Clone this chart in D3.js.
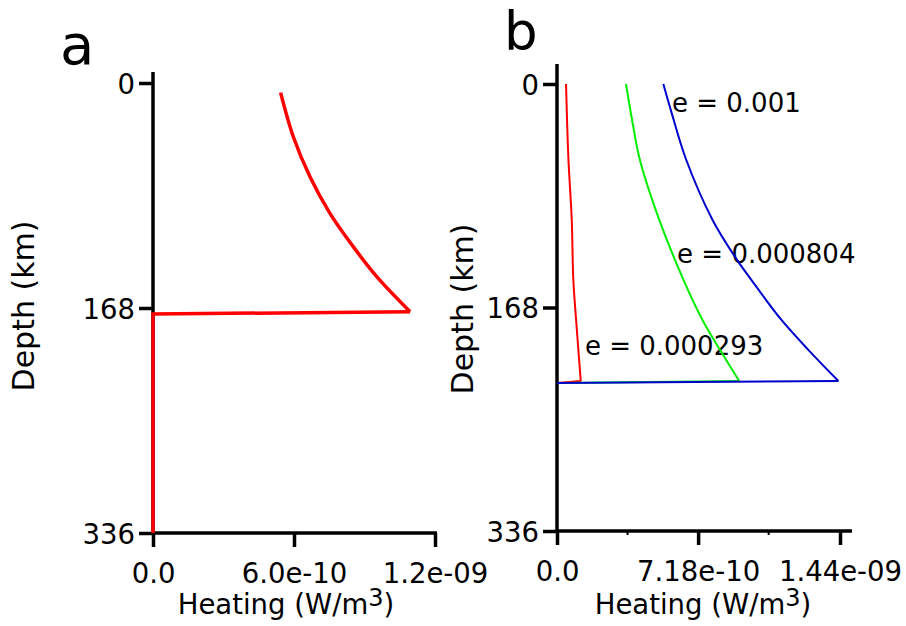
<!DOCTYPE html>
<html>
<head>
<meta charset="utf-8">
<script src="https://cdn.jsdelivr.net/npm/d3@7"></script>
<style>
body { margin: 0; background: #fff; }
text { font-family: "DejaVu Sans", sans-serif; fill: #000; }
</style>
</head>
<body>
<svg id="chart" width="906" height="626"></svg>
<script>
const UNIT = 1e-10; // heating values are stored in units of 1e-10 W/m3

// panel a - one profile
const depthA = [7.2, 40.1, 70, 97.3, 122.2, 144.6, 170.8];
const heatA  = [5.43, 5.97, 6.68, 7.53, 8.52, 9.52, 10.94];
const baseDepthA = [172.5, 336];   // heating is zero below the layer

// panel b - three eccentricities
const depthRed   = [0, 56, 102, 147, 177, 223.3];
const heatRed    = [0.46, 0.58, 0.75, 0.83, 0.97, 1.21];
const depthGreen = [0, 32, 56, 102, 147, 177, 200, 223.3];
const heatGreen  = [3.51, 3.88, 4.20, 5.2, 6.43, 7.39, 8.3, 9.27];
const depthBlue  = [0, 20, 56, 102, 132, 147, 177, 200, 223.3];
const heatBlue   = [5.41, 5.80, 6.55, 7.91, 9.15, 9.88, 11.4, 12.8, 14.32];
const baseDepthB = 224.8;

const eLabels = ["e = 0.000293", "e = 0.000804", "e = 0.001"];
const eLabelHeat  = [1.42, 6.11, 5.85];
const eLabelDepth = [203.8, 134.6, 21];

// ticks
const depthTicks = [0, 168, 336];
const heatTicksA = [0, 6e-10, 1.2e-9];
const heatLabelsA = ["0.0", "6.0e-10", "1.2e-09"];
const heatTicksB = [0, 7.18e-10, 1.44e-9];
const heatLabelsB = ["0.0", "7.18e-10", "1.44e-09"];
const minorTicksB = [3.59e-10, 1.077e-9];

const svg = d3.select("#chart");

const xA = d3.scaleLinear().domain([0, 1.2e-9]).range([153, 435]);
const yA = d3.scaleLinear().domain([0, 336]).range([83, 533]);
const xB = d3.scaleLinear().domain([0, 1.44e-9]).range([557, 840]);
const yB = d3.scaleLinear().domain([0, 336]).range([84, 531]);

function drawAxes(x, y, ticks, labels, topExtra, rightExtra) {
    const g = svg.append("g");
    // axis lines drawn by hand so they can run past the end ticks
    g.append("line")
        .attr("x1", x(0)).attr("x2", x(0))
        .attr("y1", y.range()[0] - topExtra).attr("y2", y.range()[1])
        .attr("stroke", "#000").attr("stroke-width", 3.5);
    g.append("line")
        .attr("x1", x(0)).attr("x2", x.range()[1] + rightExtra)
        .attr("y1", y.range()[1]).attr("y2", y.range()[1])
        .attr("stroke", "#000").attr("stroke-width", 3.5);

    const yAxis = g.append("g")
        .attr("transform", `translate(${x(0)},0)`)
        .call(d3.axisLeft(y).tickValues(depthTicks).tickSize(14).tickPadding(4).tickSizeOuter(0));
    const xAxis = g.append("g")
        .attr("transform", `translate(0,${y.range()[1]})`)
        .call(d3.axisBottom(x).tickValues(ticks).tickFormat((d, i) => labels[i])
            .tickSize(14).tickPadding(16).tickSizeOuter(0));

    [yAxis, xAxis].forEach(a => {
        a.select(".domain").remove();
        a.attr("font-size", 27.5).attr("font-family", "DejaVu Sans, sans-serif");
        a.selectAll("line").attr("stroke-width", 3.5);
    });
    yAxis.selectAll("text").attr("dy", "0.38em");
    return g;
}

function drawTitles(cx, yLabelX, yLabelY, letter, letterX, letterY, letterSize) {
    svg.append("text")
        .attr("transform", `translate(${yLabelX},${yLabelY}) rotate(-90)`)
        .attr("text-anchor", "middle")
        .attr("font-size", 30)
        .text("Depth (km)");
    const t = svg.append("text")
        .attr("x", cx).attr("y", 614)
        .attr("text-anchor", "middle")
        .attr("font-size", 27.5);
    t.append("tspan").text("Heating (W/m");
    t.append("tspan").attr("font-size", 24).attr("dy", -8).text("3");
    t.append("tspan").attr("dy", 8).text(")");
    svg.append("text")
        .attr("x", letterX).attr("y", letterY)
        .attr("font-size", letterSize)
        .text(letter);
}

// ---- panel a ----
drawAxes(xA, yA, heatTicksA, heatLabelsA, 11, 2);
drawTitles(286, 34, 306, "a", 60, 64, 56);

const curveA = depthA.map((d, i) => [heatA[i] * UNIT, d]);
svg.append("path")
    .datum(curveA)
    .attr("fill", "none").attr("stroke", "#ff0000").attr("stroke-width", 3.5)
    .attr("d", d3.line().x(d => xA(d[0])).y(d => yA(d[1])).curve(d3.curveCatmullRom));
svg.append("path")
    .datum([curveA[curveA.length - 1]].concat(baseDepthA.map(d => [0, d])))
    .attr("fill", "none").attr("stroke", "#ff0000").attr("stroke-width", 3.5)
    .attr("stroke-linejoin", "miter")
    .attr("d", d3.line().x(d => xA(d[0])).y(d => yA(d[1])));

// ---- panel b ----
const axB = drawAxes(xB, yB, heatTicksB, heatLabelsB, 20, 12);
axB.selectAll(".minor")
    .data(minorTicksB)
    .join("line")
    .attr("x1", d => xB(d)).attr("x2", d => xB(d))
    .attr("y1", yB.range()[1]).attr("y2", yB.range()[1] + 4)
    .attr("stroke", "#000").attr("stroke-width", 2);
drawTitles(703, 473, 309, "b", 504, 50, 53);

svg.selectAll(".elabel")
    .data(eLabels)
    .join("text")
    .attr("x", (d, i) => xB(eLabelHeat[i] * UNIT))
    .attr("y", (d, i) => yB(eLabelDepth[i]))
    .attr("font-size", 26)
    .text(d => d);

const seriesB = [
    { depth: depthRed, heat: heatRed, color: "#ff0000" },
    { depth: depthGreen, heat: heatGreen, color: "#00ee00" },
    { depth: depthBlue, heat: heatBlue, color: "#0000cc" }
];

seriesB.forEach(s => {
    const pts = s.depth.map((d, i) => [s.heat[i] * UNIT, d]);
    svg.append("path")
        .datum(pts)
        .attr("fill", "none").attr("stroke", s.color).attr("stroke-width", 2)
        .attr("d", d3.line().x(d => xB(d[0])).y(d => yB(d[1])).curve(d3.curveCatmullRom));
    svg.append("path")
        .datum([pts[pts.length - 1], [0, baseDepthB]])
        .attr("fill", "none").attr("stroke", s.color).attr("stroke-width", 2)
        .attr("d", d3.line().x(d => xB(d[0])).y(d => yB(d[1])));
});
</script>
</body>
</html>
